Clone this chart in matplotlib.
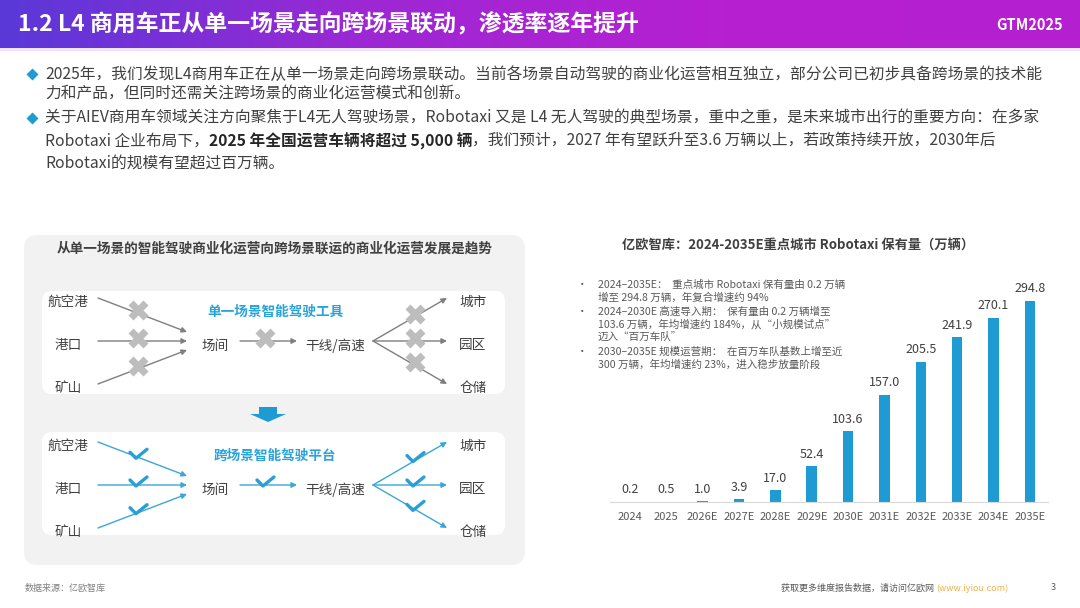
import numpy as np
import matplotlib.pyplot as plt
from matplotlib.patches import FancyBboxPatch, Rectangle, Polygon
from matplotlib.colors import LinearSegmentedColormap

plt.rcParams['font.family'] = ['Noto Sans CJK SC', 'DejaVu Sans']

# ---- data ----
years = ['2024', '2025', '2026E', '2027E', '2028E', '2029E', '2030E',
         '2031E', '2032E', '2033E', '2034E', '2035E']
fleet = [0.2, 0.5, 1.0, 3.9, 17.0, 52.4, 103.6, 157.0, 205.5, 241.9, 270.1, 294.8]

page_title = '1.2 L4 商用车正从单一场景走向跨场景联动，渗透率逐年提升'
chart_title = '亿欧智库：2024-2035E重点城市 Robotaxi 保有量（万辆）'
diagram_title = '从单一场景的智能驾驶商业化运营向跨场景联运的商业化运营发展是趋势'

bullet1 = ['2025年，我们发现L4商用车正在从单一场景走向跨场景联动。当前各场景自动驾驶的商业化运营相互独立，部分公司已初步具备跨场景的技术能',
           '力和产品，但同时还需关注跨场景的商业化运营模式和创新。']
bullet2_a = '关于AIEV商用车领域关注方向聚焦于L4无人驾驶场景，Robotaxi 又是 L4 无人驾驶的典型场景，重中之重，是未来城市出行的重要方向：在多家'
bullet2_b = [('Robotaxi 企业布局下，', 'normal'),
             ('2025 年全国运营车辆将超过 5,000 辆', 'bold'),
             ('，我们预计，2027 年有望跃升至3.6 万辆以上，若政策持续开放，2030年后', 'normal')]
bullet2_c = 'Robotaxi的规模有望超过百万辆。'

notes = [('•', '2024–2035E：  重点城市 Robotaxi 保有量由 0.2 万辆'),
         ('', '增至 294.8 万辆，年复合增速约 94%'),
         ('•', '2024–2030E 高速导入期：  保有量由 0.2 万辆增至'),
         ('', '103.6 万辆，年均增速约 184%，从“小规模试点”'),
         ('', '迈入“百万车队”'),
         ('•', '2030–2035E 规模运营期：  在百万车队基数上增至近'),
         ('', '300 万辆，年均增速约 23%，进入稳步放量阶段')]

sources = ['航空港', '港口', '矿山']
hub = '场间'
trunk = '干线/高速'
dests = ['城市', '园区', '仓储']
panel_names = ['单一场景智能驾驶工具', '跨场景智能驾驶平台']

source_note = '数据来源：亿欧智库'
footer_note = '获取更多维度报告数据，请访问亿欧网 '
footer_url = '(www.iyiou.com)'

BLUE = '#1f9bd3'
TXT = '#404040'

fig = plt.figure(figsize=(10.8, 6.08), dpi=100)
ax0 = fig.add_axes([0, 0, 1, 1], zorder=0)
ax0.set_xlim(0, 1080)
ax0.set_ylim(608, 0)
ax0.axis('off')
r = fig.canvas.get_renderer()

# header
cmap = LinearSegmentedColormap.from_list('hdr', ['#5a38d8', '#9c28d4', '#b620d1', '#b41fcf'])
ax0.imshow(np.linspace(0, 1, 256).reshape(1, -1), cmap=cmap, aspect='auto',
           extent=(0, 1080, 48, 0), zorder=1)
ax0.add_patch(Rectangle((0, 48), 1080, 3, color='#f1e4f6', zorder=1, lw=0))
ax0.text(18, 25, page_title, color='white', fontsize=16.5, weight='bold', va='center', zorder=2)
ax0.text(1030, 25, 'GTM2025', color='white', fontsize=10.5, weight='bold', va='center',
         ha='center', zorder=2)

# body text
def bullet(y):
    ax0.plot(32, y, marker='D', ms=6.5, color=BLUE, mec='none')

FS = 11.3
bullet(74)
ax0.text(45, 74, bullet1[0], fontsize=FS, color=TXT, va='center')
ax0.text(45, 94, bullet1[1], fontsize=FS, color=TXT, va='center')
bullet(118)
ax0.text(45, 118, bullet2_a, fontsize=FS, color=TXT, va='center')
x = 45
for s, w in bullet2_b:
    t = ax0.text(x, 141, s, fontsize=FS, color=TXT if w == 'normal' else '#262626',
                 weight=w, va='center')
    x += t.get_window_extent(r).width
ax0.text(45, 164, bullet2_c, fontsize=FS, color=TXT, va='center')

# ---- left diagram ----
ax0.add_patch(FancyBboxPatch((24, 235), 501, 330, boxstyle='round,pad=0,rounding_size=14',
                             fc='#f2f2f2', ec='none', zorder=1))
ax0.text(275, 249, diagram_title, fontsize=9.8, weight='bold', color=TXT, ha='center',
         va='center', zorder=3)

def cross(xc, yc):
    ax0.plot(xc, yc, marker='X', ms=15, color='#bdbdbd', mec='none', zorder=5)

def check(xc, yc):
    ax0.plot([xc - 8, xc - 2, xc + 9], [yc - 3, yc + 3, yc - 6], color='#2a9fd6',
             lw=2.4, solid_capstyle='round', solid_joinstyle='round', zorder=5)

def arrow(x1, y1, x2, y2, c):
    ax0.annotate('', xy=(x2, y2), xytext=(x1, y1),
                 arrowprops=dict(arrowstyle='-|>', color=c, lw=1.0, mutation_scale=8,
                                 shrinkA=0, shrinkB=0), zorder=4)

def on_line(x1, y1, x2, y2, xm):
    return y1 + (y2 - y1) * (xm - x1) / (x2 - x1)

for k, (top, cy) in enumerate([(291, 341), (432, 485)]):
    ax0.add_patch(FancyBboxPatch((42, top), 463, 103, boxstyle='round,pad=0,rounding_size=10',
                                 fc='white', ec='none', zorder=2))
    c = '#7f7f7f' if k == 0 else '#3aa6d9'
    mark = cross if k == 0 else check
    dy = -3 if k == 0 else -2
    ax0.text(275, cy - 29, panel_names[k], fontsize=9.8, weight='bold', color='#29a3d9',
             ha='center', va='center', zorder=3)
    for i, name in enumerate(sources):
        ys = cy + (i - 1) * 43
        ax0.text(68, ys + 4, name, fontsize=9.8, color=TXT, ha='center', va='center', zorder=3)
        ye = cy + (i - 1) * 9
        arrow(98, ys, 187, ye, c)
        mark(138, on_line(98, ys, 187, ye, 138) + dy)
    ax0.text(215, cy + 5, hub, fontsize=9.8, color=TXT, ha='center', va='center', zorder=3)
    arrow(240, cy, 297, cy, c)
    mark(265, cy + dy)
    ax0.text(335, cy + 5, trunk, fontsize=9.8, color=TXT, ha='center', va='center', zorder=3)
    for i, name in enumerate(dests):
        ye = cy + (i - 1) * 43
        arrow(373, cy, 447, ye, c)
        mark(415, on_line(373, cy, 447, ye, 415) + dy)
        ax0.text(473, ye + 4, name, fontsize=9.8, color=TXT, ha='center', va='center', zorder=3)

# blue down arrow
ax0.add_patch(Polygon([(259, 407), (277, 407), (277, 414), (286, 414), (268, 422),
                       (250, 414), (259, 414)], closed=True, fc=BLUE, ec='none', zorder=3))

# ---- right chart ----
ax0.text(798, 246, chart_title, fontsize=9.5, weight='bold', color=TXT, ha='center', va='center')
for i, (b, s) in enumerate(notes):
    yy = [285, 298, 312, 324, 337, 352, 365][i]
    if b:
        ax0.text(582, yy, b, fontsize=7.6, color='#595959', ha='center', va='center')
    ax0.text(598, yy, s, fontsize=7.6, color='#595959', va='center')

ax = fig.add_axes([610 / 1080, (608 - 502) / 608, (1048 - 610) / 1080, 252 / 608], zorder=2)
ax.patch.set_alpha(0)
pos = np.arange(len(years))
bars = ax.bar(pos, fleet, width=0.29, color=BLUE)
ax.bar_label(bars, labels=[f'{v:.1f}' for v in fleet], padding=4, fontsize=9, color=TXT)
ax.set_xlim(-0.55, 11.5)
ax.set_ylim(0, 294.8 * 252 / 201)
ax.set_xticks(pos)
ax.set_xticklabels(years, fontsize=8, color='#595959')
ax.tick_params(axis='x', length=0, pad=7)
ax.set_yticks([])
for sp in ['left', 'right', 'top']:
    ax.spines[sp].set_visible(False)
ax.spines['bottom'].set_color('#d9d9d9')

# footer
ax0.text(25, 588, source_note, fontsize=6.5, color='#808080', va='center')
u = ax0.text(1008, 588, footer_url, fontsize=6.5, color='#f0b04f', va='center', ha='right')
uw = u.get_window_extent(r).width
ax0.text(1008 - uw, 588, footer_note, fontsize=6.5, color='#595959', va='center', ha='right')
ax0.text(1053, 588, '3', fontsize=6.5, color='#595959', va='center', ha='center')

fig.savefig('out.png', dpi=100)
